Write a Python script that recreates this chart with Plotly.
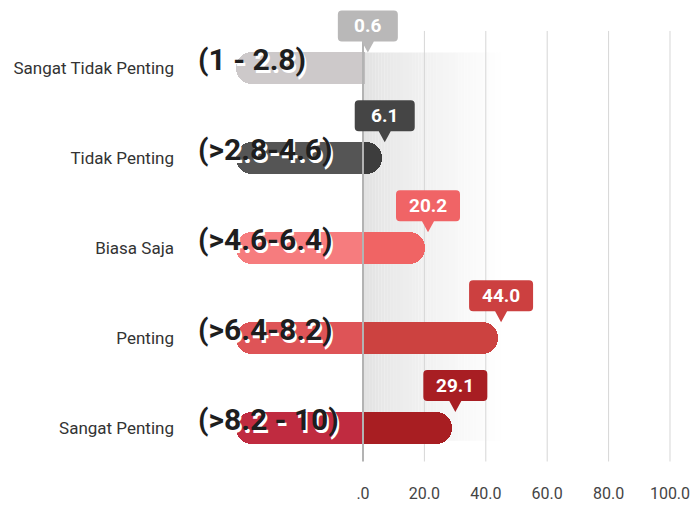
import plotly.graph_objects as go

# ---- data -------------------------------------------------------------
categories = ["Sangat Tidak Penting", "Tidak Penting", "Biasa Saja", "Penting", "Sangat Penting"]
score_ranges = ["(1 - 2.8)", "(>2.8-4.6)", "(>4.6-6.4)", "(>6.4-8.2)", "(>8.2 - 10)"]
percentages = [0.6, 6.1, 20.2, 44.0, 29.1]
label_track = [-41.4, -41.4, -41.4, -41.4, -41.4]
x_tickvals = [0, 20, 40, 60, 80, 100]
x_ticktext = [".0", "20.0", "40.0", "60.0", "80.0", "100.0"]

# ---- styling ----------------------------------------------------------
track_colors = ["#cdc9ca", "#555555", "#f67c7e", "#de5457", "#c02b40"]
bar_colors = ["#bebcbd", "#3d3d3d", "#f06464", "#cc4240", "#a81e22"]
callout_colors = ["#b9b8b8", "#454545", "#f06466", "#cc4040", "#a81e23"]
FONT = "Roboto"
BAR_W = 0.356          # in category units (~90 px per category)
positions = list(range(len(categories)))

fig = go.Figure()
fig.add_trace(go.Bar(
    y=positions, x=label_track, orientation="h", width=BAR_W,
    marker=dict(color=track_colors, cornerradius=16, line=dict(width=0)),
    hoverinfo="skip", showlegend=False,
))
fig.add_trace(go.Bar(
    y=positions, x=percentages, orientation="h", width=BAR_W,
    marker=dict(color=bar_colors, cornerradius=16, line=dict(width=0)),
    hoverinfo="skip", showlegend=False,
))

shapes = []

# soft grey band fading out to the right of the zero line
n_strips = 46
band_end = 46.0
for i in range(n_strips):
    t = i / (n_strips - 1)
    g = int(round(226 + (255 - 226) * (t ** 0.8)))
    col = f"rgb({g},{g},{g})"
    shapes.append(dict(
        type="rect", layer="below", xref="x", yref="y",
        x0=band_end * i / n_strips, x1=band_end * (i + 1) / n_strips + 0.05,
        y0=-0.178, y1=4.14, fillcolor=col, line=dict(width=0),
    ))

# vertical grid lines
for v in x_tickvals[1:]:
    shapes.append(dict(
        type="line", layer="below", xref="x", yref="y",
        x0=v, x1=v, y0=-0.417, y1=4.372,
        line=dict(color="#d6d6d6", width=1),
    ))

# zero line, drawn over the bars
shapes.append(dict(
    type="line", layer="above", xref="x", yref="y",
    x0=0, x1=0, y0=-0.417, y1=4.372,
    line=dict(color="#b3b3b3", width=2),
))

annotations = []

# value callouts: rounded box with a pointer down to the bar end
for pos, val, col in zip(positions, percentages, callout_colors):
    txt = f"{val:.1f}"
    w = 48 + 4 * len(txt)
    dx = 3
    L, R = dx - w / 2, dx + w / 2
    B, T = 27, 58
    r = 4
    tip = 16
    path = (
        f"M{L + r},{T} L{R - r},{T} Q{R},{T} {R},{T - r} "
        f"L{R},{B + r} Q{R},{B} {R - r},{B} "
        f"L{dx + 6},{B} L{dx},{tip} L{dx - 6},{B} "
        f"L{L + r},{B} Q{L},{B} {L},{B + r} "
        f"L{L},{T - r} Q{L},{T} {L + r},{T} Z"
    )
    shapes.append(dict(
        type="path", layer="above", xref="x", yref="y",
        xsizemode="pixel", ysizemode="pixel", xanchor=val, yanchor=pos,
        path=path, fillcolor=col, line=dict(width=0),
    ))
    annotations.append(dict(
        x=val, y=pos, xref="x", yref="y", text=f"<b>{txt}</b>",
        showarrow=False, xshift=dx, yshift=43,
        font=dict(family=FONT, size=19, color="white"),
        xanchor="center", yanchor="middle",
    ))

# score-range labels over the left part of each bar
for pos, rng in zip(positions, score_ranges):
    annotations.append(dict(
        x=-54.4, y=pos, xref="x", yref="y", text=f"<b>{rng}</b>",
        showarrow=False, yshift=9, xanchor="left", yanchor="middle",
        font=dict(family=FONT, size=30, color="#1e1e1e",
                  shadow="2px 3px 0px #ffffff"),
    ))

fig.update_layout(
    width=693, height=506,
    margin=dict(l=180, r=13, t=0, b=33),
    paper_bgcolor="white", plot_bgcolor="white",
    barmode="relative", bargap=0,
    shapes=shapes, annotations=annotations,
    showlegend=False,
    font=dict(family=FONT, color="#333333"),
)
fig.update_xaxes(
    range=[-59.61, 103.26], tickvals=x_tickvals, ticktext=x_ticktext,
    showgrid=False, zeroline=False, showline=False, ticks="",
    tickfont=dict(family=FONT, size=16, color="#444444"),
    ticklabelstandoff=9, fixedrange=True, automargin=False,
)
fig.update_yaxes(
    range=[4.5, -0.7611], tickvals=positions, ticktext=categories,
    showgrid=False, zeroline=False, showline=False, ticks="",
    tickfont=dict(family=FONT, size=17, color="#333333"),
    ticklabelstandoff=5, fixedrange=True, automargin=False,
)

fig.write_html("out.html", config={"displayModeBar": False})
